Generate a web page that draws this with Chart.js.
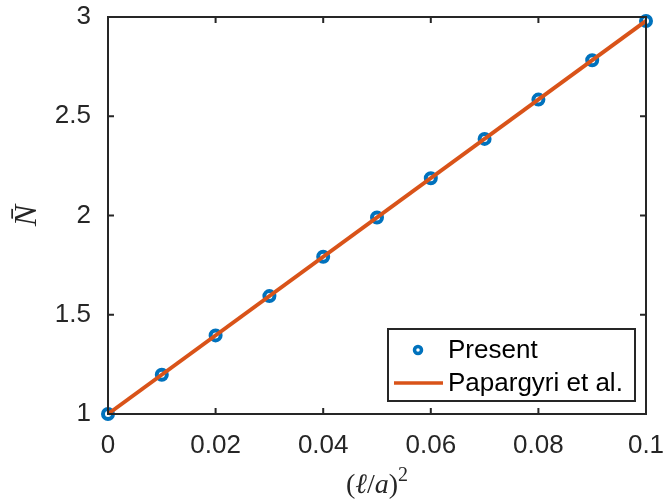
<!DOCTYPE html>
<html>
<head>
<meta charset="utf-8">
<script src="https://cdn.jsdelivr.net/npm/chart.js@4/dist/chart.umd.min.js"></script>
<style>
  html, body { margin: 0; padding: 0; background: #fff; }
  #wrap { width: 665px; height: 503px; }
</style>
</head>
<body>
<div id="wrap"><canvas id="grafica"></canvas></div>
<script>
// valores
let ratios = [0, 0.01, 0.02, 0.03, 0.04, 0.05, 0.06, 0.07, 0.08, 0.09, 0.1];
let presente = [1, 1.198, 1.396, 1.594, 1.792, 1.99, 2.188, 2.386, 2.584, 2.782, 2.98];
let papargyriX = [0, 0.1];
let papargyriY = [1, 2.98];

let ticksX = [0, 0.02, 0.04, 0.06, 0.08, 0.1];
let ticksY = [1, 1.5, 2, 2.5, 3];

let azul = "#0072BD";
let naranja = "#D95319";
let ejes = "#262626";
let fuente = "'Liberation Sans', Arial, Helvetica, sans-serif";
let serif = "'Liberation Serif', 'DejaVu Serif', serif";

// caja, marcas hacia dentro, titulos y leyenda al estilo matlab
const cajaMatlab = {
  id: "cajaMatlab",
  afterDatasetsDraw(chart) {
    const ctx = chart.ctx;
    const a = chart.chartArea;
    const sx = chart.scales.x;
    const sy = chart.scales.y;
    ctx.save();
    ctx.strokeStyle = ejes;
    ctx.lineWidth = 2;
    ctx.beginPath();
    ticksX.forEach((v) => {
      let px = sx.getPixelForValue(v);
      ctx.moveTo(px, a.bottom);
      ctx.lineTo(px, a.bottom - 6);
      ctx.moveTo(px, a.top);
      ctx.lineTo(px, a.top + 6);
    });
    ticksY.forEach((v) => {
      let py = sy.getPixelForValue(v);
      ctx.moveTo(a.left, py);
      ctx.lineTo(a.left + 6, py);
      ctx.moveTo(a.right, py);
      ctx.lineTo(a.right - 6, py);
    });
    ctx.stroke();
    ctx.strokeRect(a.left, a.top, a.right - a.left, a.bottom - a.top);

    // titulo eje x: (l/a)^2
    let partes = [
      { t: "(", f: "28px " + serif, dy: 0 },
      { t: "ℓ", f: "italic 28px " + serif, dy: 0 },
      { t: "/", f: "28px " + serif, dy: 0 },
      { t: "a", f: "italic 28px " + serif, dy: 0 },
      { t: ")", f: "28px " + serif, dy: 0 },
      { t: "2", f: "20px " + serif, dy: -12 },
    ];
    let ancho = 0;
    partes.forEach((p) => { ctx.font = p.f; p.w = ctx.measureText(p.t).width; ancho += p.w; });
    let cx = (a.left + a.right) / 2 - ancho / 2;
    ctx.fillStyle = ejes;
    ctx.textBaseline = "alphabetic";
    ctx.textAlign = "left";
    partes.forEach((p) => {
      ctx.font = p.f;
      ctx.fillText(p.t, cx, 493 + p.dy);
      cx += p.w;
    });

    // titulo eje y
    ctx.save();
    ctx.translate(36, (a.top + a.bottom) / 2);
    ctx.rotate(-Math.PI / 2);
    ctx.font = "italic 32px " + serif;
    ctx.textAlign = "center";
    ctx.fillText("N\u0304", 0, 0);
    ctx.restore();

    // leyenda
    let lx = 388, ly = 329, lw = 247, lh = 72;
    ctx.fillStyle = "#fff";
    ctx.fillRect(lx, ly, lw, lh);
    ctx.strokeStyle = ejes;
    ctx.lineWidth = 2;
    ctx.strokeRect(lx, ly, lw, lh);

    let ds = chart.data.datasets;
    ctx.font = "26px " + fuente;
    ctx.textBaseline = "middle";

    ctx.beginPath();
    ctx.arc(418, 350, 3.5, 0, Math.PI * 2);
    ctx.fillStyle = "#fff";
    ctx.fill();
    ctx.strokeStyle = azul;
    ctx.lineWidth = 3.5;
    ctx.stroke();
    ctx.fillStyle = "#000";
    ctx.fillText(ds[0].label, 448, 351);

    ctx.beginPath();
    ctx.moveTo(394, 383);
    ctx.lineTo(443, 383);
    ctx.strokeStyle = naranja;
    ctx.lineWidth = 3.5;
    ctx.stroke();
    ctx.fillText(ds[1].label, 448, 384);
    ctx.restore();
  },
};

new Chart("grafica", {
  type: "scatter",
  data: {
    datasets: [
      {
        label: "Present",
        data: ratios.map((x, i) => ({ x: x, y: presente[i] })),
        showLine: false,
        pointRadius: 5,
        pointBorderWidth: 4,
        pointBorderColor: azul,
        pointBackgroundColor: "#fff",
        clip: false,
        order: 2,
      },
      {
        label: "Papargyri et al.",
        data: papargyriX.map((x, i) => ({ x: x, y: papargyriY[i] })),
        showLine: true,
        borderColor: naranja,
        borderWidth: 4,
        pointRadius: 0,
        clip: false,
        order: 1,
      },
    ],
  },
  options: {
    responsive: true,
    maintainAspectRatio: false,
    animation: false,
    layout: { padding: { top: 17, right: 19, left: 0, bottom: 0 } },
    plugins: {
      legend: { display: false },
      tooltip: { enabled: false },
    },
    scales: {
      x: {
        type: "linear",
        min: 0,
        max: 0.1,
        afterBuildTicks: (s) => { s.ticks = ticksX.map((v) => ({ value: v })); },
        afterFit: (s) => { s.height = 89; s.paddingLeft = 0; s.paddingRight = 0; },
        grid: { display: false },
        border: { color: ejes, width: 2 },
        ticks: {
          color: "#262626",
          padding: 8,
          font: { size: 26, family: fuente },
          maxRotation: 0,
          callback: (v) => String(v),
        },
      },
      y: {
        type: "linear",
        min: 1,
        max: 3,
        afterBuildTicks: (s) => { s.ticks = ticksY.map((v) => ({ value: v })); },
        afterFit: (s) => { s.width = 108; s.paddingTop = 0; s.paddingBottom = 0; },
        grid: { display: false },
        border: { color: ejes, width: 2 },
        ticks: {
          color: "#262626",
          padding: 9,
          font: { size: 26, family: fuente },
          callback: (v) => String(v),
        },
      },
    },
  },
  plugins: [cajaMatlab],
});
</script>
</body>
</html>
